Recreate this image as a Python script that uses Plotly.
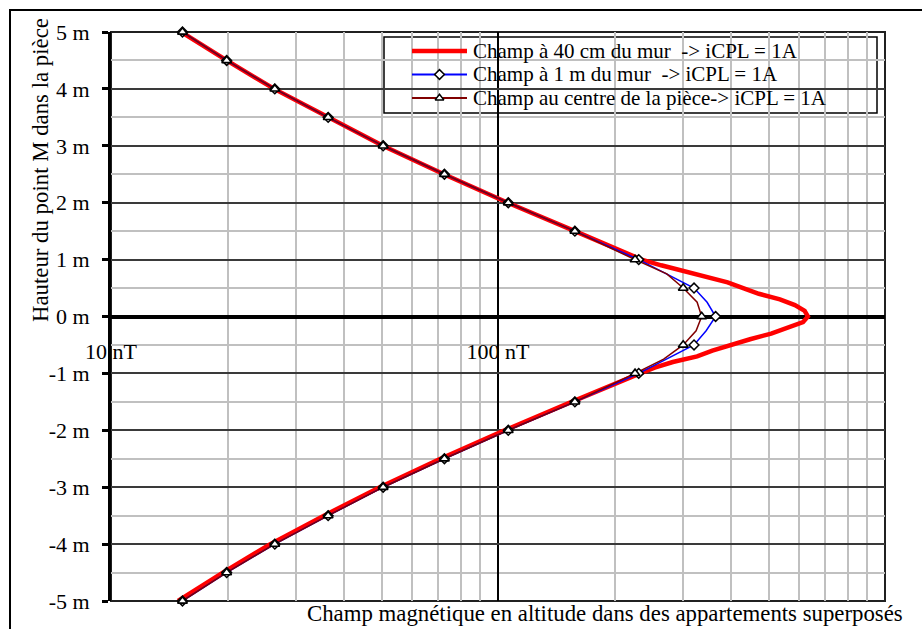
import plotly.graph_objects as go

# Height of point M in the room (m) and magnetic field (nT) for each series
h_wall40 = [5, 4.5, 4, 3.5, 3, 2.5, 2, 1.5, 1.0, 0.9, 0.8, 0.7, 0.6, 0.5, 0.4, 0.3, 0.2, 0.1, 0.0,
            -0.1, -0.2, -0.3, -0.4, -0.5, -0.6, -0.7, -0.8, -0.9, -1.0,
            -1.5, -2, -2.5, -3, -3.5, -4, -4.5, -5]
b_wall40 = [15.2, 19.9, 26.4, 36.3, 50.4, 72.5, 106, 158, 235, 264, 300, 345, 392, 430, 472, 535, 585, 620, 632,
            614, 560, 508, 448, 398, 358, 327, 283, 254, 233,
            155, 104, 71, 49.5, 35.5, 25.8, 19.5, 14.9]

h_wall1m = [5, 4.5, 4, 3.5, 3, 2.5, 2, 1.5, 1, 0.5, 0.25, 0, -0.25, -0.5, -1,
            -1.5, -2, -2.5, -3, -3.5, -4, -4.5, -5]
b_wall1m = [15.3, 19.9, 26.5, 36.4, 50.5, 72.7, 106.3, 158, 231, 321, 347, 365, 345, 321, 231,
            158, 106.3, 72.7, 50.5, 36.4, 26.5, 19.9, 15.3]

h_centre = [5, 4.5, 4, 3.5, 3, 2.5, 2, 1.5, 1, 0.75, 0.5, 0.25, 0, -0.25, -0.5, -0.75, -1,
            -1.5, -2, -2.5, -3, -3.5, -4, -4.5, -5]
b_centre = [15.3, 19.9, 26.5, 36.4, 50.5, 72.7, 106.3, 158, 226, 273, 301, 327, 336, 325, 301, 268, 226,
            158, 106.3, 72.7, 50.5, 36.4, 26.5, 19.9, 15.3]

series_names = ["Champ à 40 cm du mur \u00a0-> iCPL = 1A",
                "Champ à 1 m du mur \u00a0-> iCPL = 1A",
                "Champ au centre de la pièce-> iCPL = 1A"]

x_tickvals = [10, 100, 1000]
x_ticktext = ["10 nT", "100 nT", "1000 nT"]
x_minor = [20, 30, 40, 50, 60, 70, 80, 90, 200, 300, 400, 500, 600, 700, 800, 900]
y_tickvals = [5, 4, 3, 2, 1, 0, -1, -2, -3, -4, -5]
y_ticktext = [f"{v} m" for v in y_tickvals]
y_minor = [4.5, 3.5, 2.5, 1.5, 0.5, -0.5, -1.5, -2.5, -3.5, -4.5]

y_title = "Hauteur du point M dans la pièce"
x_title = "Champ magnétique en altitude dans des appartements superposés"

FONT = "Liberation Serif, Times New Roman, serif"
RED, BLUE, BROWN = "#ff0000", "#0000ff", "#800000"

# plot area in pixels
W_FIG, H_FIG = 922, 629
L, T, R, B = 111, 32, 37, 28
PW, PH = W_FIG - L - R, H_FIG - T - B


def px_x(px):
    return (px - L) / PW


def px_y(py):
    return (T + PH - py) / PH


def half_steps(h, b):
    keep = [i for i, v in enumerate(h) if abs(v * 2 - round(v * 2)) < 1e-9]
    return [h[i] for i in keep], [b[i] for i in keep]


fig = go.Figure()

fig.add_trace(go.Scatter(x=b_wall40, y=h_wall40, mode="lines",
                         line=dict(color=RED, width=4.5), cliponaxis=False))
fig.add_trace(go.Scatter(x=b_wall1m, y=h_wall1m, mode="lines",
                         line=dict(color=BLUE, width=1.5), cliponaxis=False))
fig.add_trace(go.Scatter(x=b_centre, y=h_centre, mode="lines",
                         line=dict(color=BROWN, width=1.5), cliponaxis=False))

hm, bm = half_steps(h_wall1m, b_wall1m)
fig.add_trace(go.Scatter(x=bm, y=hm, mode="markers", cliponaxis=False,
                         marker=dict(symbol="diamond", size=7.5, color="white",
                                     line=dict(color="black", width=1.5))))
hm, bm = half_steps(h_centre, b_centre)
fig.add_trace(go.Scatter(x=bm, y=hm, mode="markers", cliponaxis=False,
                         marker=dict(symbol="triangle-up", size=8.5, color="white",
                                     line=dict(color="black", width=1.6))))

# legend samples on an overlay axis pair spanning the plot area in paper units
legend_rows = [51, 74.5, 98]
legend_styles = [
    dict(color=RED, width=4.5, marker=None),
    dict(color=BLUE, width=2, marker="diamond"),
    dict(color=BROWN, width=2, marker="triangle-up"),
]
for py, st in zip(legend_rows, legend_styles):
    yy = px_y(py)
    xs = [px_x(412), px_x(439.5), px_x(467)]
    fig.add_trace(go.Scatter(x=xs, y=[yy] * 3, mode="lines", xaxis="x2", yaxis="y2",
                             line=dict(color=st["color"], width=st["width"]), cliponaxis=False))
    if st["marker"]:
        fig.add_trace(go.Scatter(x=[xs[1]], y=[yy], mode="markers", xaxis="x2", yaxis="y2",
                                 cliponaxis=False,
                                 marker=dict(symbol=st["marker"], size=7.5, color="white",
                                             line=dict(color="black", width=1.5))))

shapes = [
    # outer frame
    dict(type="rect", xref="paper", yref="paper", x0=px_x(10), y0=px_y(660), x1=px_x(960), y1=px_y(10),
         line=dict(color="black", width=2), layer="below"),
    # plot frame
    dict(type="rect", xref="paper", yref="paper", x0=0, y0=0, x1=1, y1=1,
         line=dict(color="#202020", width=2), layer="between"),
    # legend box
    dict(type="rect", xref="paper", yref="paper", x0=px_x(384), y0=px_y(113), x1=px_x(877), y1=px_y(37),
         line=dict(color="black", width=1.5), fillcolor="white", layer="between"),
]

annotations = [
    dict(text=y_title, xref="paper", yref="paper", x=px_x(40), y=px_y(170), textangle=-90,
         showarrow=False, xanchor="center", yanchor="middle", font=dict(size=22.8)),
    dict(text=x_title, xref="paper", yref="paper", x=px_x(605), y=px_y(613),
         showarrow=False, xanchor="center", yanchor="middle", font=dict(size=22.8)),
]
for py, name in zip(legend_rows, series_names):
    annotations.append(dict(text=name, xref="paper", yref="paper", x=px_x(471), y=px_y(py),
                            showarrow=False, xanchor="left", yanchor="middle", font=dict(size=21)))

fig.update_layout(
    width=W_FIG, height=H_FIG,
    margin=dict(l=L, r=R, t=T, b=B),
    paper_bgcolor="white", plot_bgcolor="white",
    showlegend=False,
    font=dict(family=FONT, size=22, color="black"),
    xaxis=dict(type="log", range=[1, 3], anchor="free", position=0.5, side="bottom",
               tickvals=x_tickvals, ticktext=x_ticktext, ticks="", showline=False,
               showgrid=True, gridcolor="black", gridwidth=1.5, zeroline=False,
               ticklabelstandoff=19, tickfont=dict(size=22),
               minor=dict(tickvals=x_minor, showgrid=True, gridcolor="#c0c0c0", gridwidth=2, ticks="")),
    yaxis=dict(range=[-5, 5], tickvals=y_tickvals, ticktext=y_ticktext,
               ticks="outside", ticklen=6, tickwidth=3, tickcolor="black",
               showline=True, linewidth=3, linecolor="black",
               showgrid=True, gridcolor="#3a3a3a", gridwidth=2,
               zeroline=True, zerolinecolor="black", zerolinewidth=4,
               ticklabelstandoff=8, tickfont=dict(size=22),
               minor=dict(tickvals=y_minor, showgrid=True, gridcolor="#c0c0c0", gridwidth=2, ticks="")),
    xaxis2=dict(overlaying="x", anchor="y2", range=[0, 1], visible=False),
    yaxis2=dict(overlaying="y", anchor="x2", range=[0, 1], visible=False),
    shapes=shapes,
    annotations=annotations,
)

fig.write_html("out.html")
